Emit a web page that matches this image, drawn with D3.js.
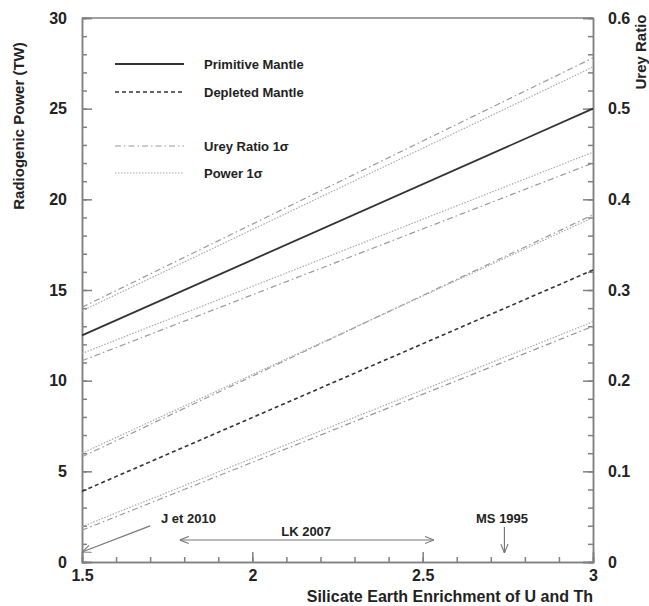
<html>
<head>
  <style>
  body { margin: 0; background: #fff; }
  #chart text { font-family: "Liberation Sans", Arial, sans-serif; font-weight: bold; fill: #222; }
  .axis path, .axis line { stroke: #808080; stroke-width: 1.5; }
  </style>
  <script src="https://d3js.org/d3.v7.min.js"></script>
</head>
<body>
  <svg id="chart"></svg>
</body>
  <script>
  // enrichment factor at the two ends of every line
  var enrichment = [1.5, 3];
  // radiogenic power (TW) at enrichment 1.5 and 3
  var primitive = [12.5, 25];
  var depleted = [3.9, 16.1];
  var ureyPmHi = [14.05, 27.8], ureyPmLo = [11.1, 22.0];
  var powerPmHi = [13.85, 27.3], powerPmLo = [11.5, 22.6];
  var ureyDmHi = [5.8, 19.15], ureyDmLo = [1.75, 13.0];
  var powerDmHi = [6.0, 19.0], powerDmLo = [1.95, 13.25];
  // tick labels
  var xTicks = [1.5, 2, 2.5, 3];
  var yTicks = [0, 5, 10, 15, 20, 25, 30];
  var urTicks = [0, 0.1, 0.2, 0.3, 0.4, 0.5, 0.6];
  // annotations (data units)
  var lkRange = [1.787, 2.533];
  var msValue = 2.74;
  var jArrow = [[1.70, 1.99], [1.5, 0.55]];

  var W = 649, H = 606;
  var mLeft = 82, mRight = 593, mTop = 18, mBottom = 562;

  var x = d3.scaleLinear().domain([1.5, 3]).range([mLeft, mRight]);
  var y = d3.scaleLinear().domain([0, 30]).range([mBottom, mTop]);
  var yr = d3.scaleLinear().domain([0, 0.6]).range([mBottom, mTop]);

  var svg = d3.select("#chart").attr("width", W).attr("height", H);

  var defs = svg.append("defs");
  defs.append("marker").attr("id", "open").attr("viewBox", "0 0 10 10")
      .attr("refX", 10).attr("refY", 5).attr("markerWidth", 9).attr("markerHeight", 9)
      .attr("orient", "auto-start-reverse").attr("markerUnits", "userSpaceOnUse")
    .append("path").attr("d", "M0,1 L10,5 L0,9").attr("fill", "none")
      .attr("stroke", "#777").attr("stroke-width", 1.2);

  // frame top
  svg.append("line").attr("x1", mLeft).attr("x2", mRight).attr("y1", mTop).attr("y2", mTop)
      .attr("stroke", "#808080").attr("stroke-width", 1.5);

  // left axis
  svg.append("g").attr("class", "axis").attr("transform", "translate(" + mLeft + ",0)")
      .call(d3.axisLeft(y).tickValues(d3.range(0, 31, 1)).tickSize(-5).tickFormat(""));
  var gl = svg.append("g").attr("class", "axis").attr("transform", "translate(" + mLeft + ",0)")
      .call(d3.axisLeft(y).tickValues(yTicks).tickSize(-10).tickPadding(15));
  gl.selectAll("text").style("font-size", "16px");

  // right axis
  svg.append("g").attr("class", "axis").attr("transform", "translate(" + mRight + ",0)")
      .call(d3.axisRight(yr).tickValues(d3.range(0, 31, 1).map(function(d) { return d / 50; })).tickSize(-5).tickFormat(""));
  var gr = svg.append("g").attr("class", "axis").attr("transform", "translate(" + mRight + ",0)")
      .call(d3.axisRight(yr).tickValues(urTicks).tickSize(-10).tickPadding(15)
        .tickFormat(function(d) { return d === 0 ? "0" : d3.format(".1f")(d); }));
  gr.selectAll("text").style("font-size", "16px");

  // bottom axis
  svg.append("g").attr("class", "axis").attr("transform", "translate(0," + mBottom + ")")
      .call(d3.axisBottom(x).tickValues(d3.range(15, 31, 1).map(function(d) { return d / 10; })).tickSize(-5).tickFormat(""));
  var gb = svg.append("g").attr("class", "axis").attr("transform", "translate(0," + mBottom + ")")
      .call(d3.axisBottom(x).tickValues(xTicks).tickSize(-10).tickPadding(8).tickFormat(d3.format("")));
  gb.selectAll("text").style("font-size", "16px");

  // axis titles
  svg.append("text").attr("transform", "translate(24,126) rotate(-90)")
      .attr("text-anchor", "middle").style("font-size", "15px").text("Radiogenic Power (TW)");
  svg.append("text").attr("transform", "translate(646,52) rotate(-90)")
      .attr("text-anchor", "middle").style("font-size", "15px").text("Urey Ratio");
  svg.append("text").attr("x", mRight).attr("y", 602)
      .attr("text-anchor", "end").style("font-size", "16px").text("Silicate Earth Enrichment of U and Th");

  // series lines
  var styles = {
    primitive: { stroke: "#333", width: 1.8, dash: null },
    depleted: { stroke: "#333", width: 1.6, dash: "4,3" },
    urey: { stroke: "#999", width: 1.2, dash: "6,3,1.5,3" },
    power: { stroke: "#aaa", width: 1.2, dash: "1.5,1.5" }
  };
  var series = [
    { v: ureyPmHi, s: "urey" }, { v: ureyPmLo, s: "urey" },
    { v: powerPmHi, s: "power" }, { v: powerPmLo, s: "power" },
    { v: ureyDmHi, s: "urey" }, { v: ureyDmLo, s: "urey" },
    { v: powerDmHi, s: "power" }, { v: powerDmLo, s: "power" },
    { v: primitive, s: "primitive" }, { v: depleted, s: "depleted" }
  ];
  var line = d3.line().x(function(d) { return x(d[0]); }).y(function(d) { return y(d[1]); });
  svg.selectAll("path.series").data(series).enter().append("path")
      .attr("class", "series")
      .attr("d", function(d) { return line(enrichment.map(function(e, i) { return [e, d.v[i]]; })); })
      .attr("fill", "none")
      .attr("stroke", function(d) { return styles[d.s].stroke; })
      .attr("stroke-width", function(d) { return styles[d.s].width; })
      .attr("stroke-dasharray", function(d) { return styles[d.s].dash; });

  // legend
  var legend = [
    { label: "Primitive Mantle", s: "primitive", y: 64 },
    { label: "Depleted Mantle", s: "depleted", y: 92 },
    { label: "Urey Ratio 1\u03c3", s: "urey", y: 146 },
    { label: "Power 1\u03c3", s: "power", y: 173 }
  ];
  var lg = svg.selectAll("g.leg").data(legend).enter().append("g").attr("class", "leg")
      .attr("transform", function(d) { return "translate(0," + d.y + ")"; });
  lg.append("line").attr("x1", 115).attr("x2", 184)
      .attr("stroke", function(d) { return styles[d.s].stroke; })
      .attr("stroke-width", function(d) { return styles[d.s].width; })
      .attr("stroke-dasharray", function(d) { return styles[d.s].dash; });
  lg.append("text").attr("x", 204).attr("dy", "0.35em").style("font-size", "13px")
      .text(function(d) { return d.label; });

  // annotations
  svg.append("line").attr("x1", x(jArrow[0][0])).attr("y1", y(jArrow[0][1]))
      .attr("x2", x(jArrow[1][0])).attr("y2", y(jArrow[1][1]))
      .attr("stroke", "#777").attr("stroke-width", 1.2).attr("marker-end", "url(#open)");
  svg.append("text").attr("x", 161).attr("y", 518).attr("dy", "0.35em")
      .style("font-size", "13px").text("J et 2010");

  svg.append("line").attr("x1", x(lkRange[0])).attr("x2", x(lkRange[1]))
      .attr("y1", 540).attr("y2", 540)
      .attr("stroke", "#777").attr("stroke-width", 1.2)
      .attr("marker-start", "url(#open)").attr("marker-end", "url(#open)");
  svg.append("text").attr("x", x(2.158)).attr("y", 531).attr("dy", "0.35em")
      .attr("text-anchor", "middle").style("font-size", "13px").text("LK 2007");

  svg.append("line").attr("x1", x(msValue)).attr("x2", x(msValue))
      .attr("y1", 527).attr("y2", 553)
      .attr("stroke", "#777").attr("stroke-width", 1.2).attr("marker-end", "url(#open)");
  svg.append("text").attr("x", x(2.733)).attr("y", 518).attr("dy", "0.35em")
      .attr("text-anchor", "middle").style("font-size", "13px").text("MS 1995");
  </script>
</html>
